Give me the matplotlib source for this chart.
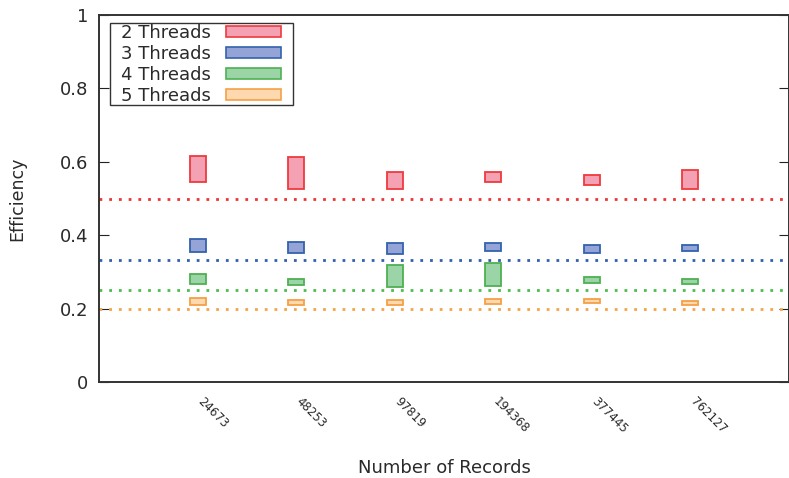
import numpy as np
import matplotlib.pyplot as plt
from matplotlib.patches import Patch, Rectangle

records = ['24673', '48253', '97819', '194368', '377445', '762127']
threads = ['2 Threads', '3 Threads', '4 Threads', '5 Threads']
ideal = [1/2, 1/3, 1/4, 1/5]

# min / max efficiency per record count
eff_lo = {
    '2 Threads': [0.545, 0.525, 0.525, 0.545, 0.536, 0.526],
    '3 Threads': [0.354, 0.351, 0.350, 0.356, 0.352, 0.356],
    '4 Threads': [0.268, 0.265, 0.259, 0.262, 0.271, 0.268],
    '5 Threads': [0.210, 0.209, 0.209, 0.212, 0.214, 0.211],
}
eff_hi = {
    '2 Threads': [0.616, 0.613, 0.572, 0.571, 0.563, 0.579],
    '3 Threads': [0.390, 0.381, 0.378, 0.378, 0.372, 0.373],
    '4 Threads': [0.293, 0.281, 0.318, 0.323, 0.285, 0.281],
    '5 Threads': [0.228, 0.223, 0.223, 0.225, 0.225, 0.220],
}

edge = ['#ee3a3e', '#3462ad', '#4fb052', '#f5a045']
face = ['#f4a1b3', '#94a4d7', '#9bd4a6', '#fed8ae']
dots = ['#ee3434', '#3060b0', '#4cbd4c', '#f5a448']
txt = '#2a2a2a'

dpi = 100
W, H = 789, 478
fig = plt.figure(figsize=(W/dpi, H/dpi), dpi=dpi, facecolor='w')
ax = fig.add_axes([99/W, 1 - 382/H, 690/W, 367/H])

x = np.arange(1, len(records) + 1)
for i, t in enumerate(threads):
    lo = np.array(eff_lo[t])
    hi = np.array(eff_hi[t])
    ax.bar(x, hi - lo, bottom=lo, width=0.162, color=face[i],
           edgecolor=edge[i], linewidth=1.3, zorder=3)
    ax.axhline(ideal[i], color=dots[i], ls=(0, (1, 2.5)), lw=2, zorder=2)

ax.set_xlim(0, 7)
ax.set_ylim(0, 1)
ax.set_xticks(x)
ax.set_xticklabels([])
ax.tick_params(axis='x', length=0)
# rotated record counts hanging below each group
for xi, rec in zip(x, records):
    ax.annotate(rec, xy=(xi, 0), xycoords=('data', 'axes fraction'),
                xytext=(4.5, -9), textcoords='offset points',
                rotation=-45, ha='left', va='top', rotation_mode='anchor',
                fontsize=8.5, color=txt)

ax.set_yticks([0, 0.2, 0.4, 0.6, 0.8, 1])
ax.set_yticklabels(['0', '0.2', '0.4', '0.6', '0.8', '1'])
ax.tick_params(axis='y', direction='in', length=7, labelsize=13,
               labelcolor=txt, right=True, pad=8, color='#222222')
for s in ax.spines.values():
    s.set_linewidth(1.4)
    s.set_color('#333333')

ax.set_xlabel('Number of Records', fontsize=13, color=txt)
ax.xaxis.set_label_coords(0.5, -(459 - 382)/367)
ax.set_ylabel('Efficiency', fontsize=12.5, labelpad=24, color=txt)

# legend: labels left, swatches right, square black frame
handles = [Patch(facecolor=face[i], edgecolor=edge[i], lw=1.2)
           for i in range(len(threads))]
leg = ax.legend(handles, threads, loc='upper left',
                bbox_to_anchor=((121 - 99)/690, (382 - 24)/367),
                markerfirst=False, fontsize=13, handlelength=3.05,
                handleheight=0.55, labelspacing=0.16, borderpad=0.0,
                handletextpad=0.85, frameon=False, borderaxespad=0,
                labelcolor=txt)
fig.add_artist(Rectangle((110/W, 1 - 105/H), 183/W, 82/H,
                         transform=fig.transFigure, fill=False,
                         edgecolor='#333333', lw=1.0, zorder=5))

plt.savefig('out.png', dpi=dpi, facecolor='w')
